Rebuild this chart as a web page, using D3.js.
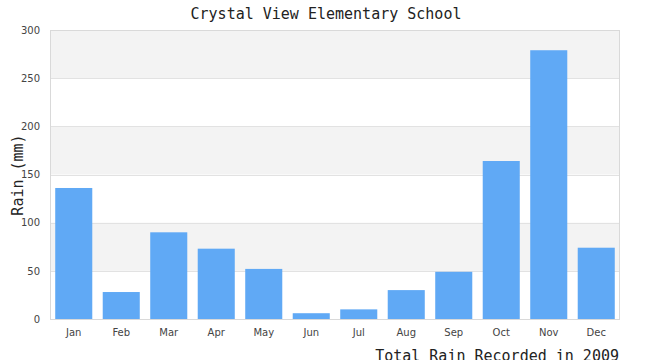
<!DOCTYPE html>
<html>
<head>
<meta charset="utf-8">
<script src="https://cdn.jsdelivr.net/npm/d3@7"></script>
<style>
  body { margin: 0; background: #fff; }
  svg { display: block; }
</style>
</head>
<body>
<div id="chart"></div>
<script>
// Monthly rainfall, Crystal View Elementary School, 2009
const months = ['Jan', 'Feb', 'Mar', 'Apr', 'May', 'Jun', 'Jul', 'Aug', 'Sep', 'Oct', 'Nov', 'Dec'];
const rainMM = [136, 28, 90, 73, 52, 6, 10, 30, 49, 164, 279, 74];
const yTicks = [0, 50, 100, 150, 200, 250, 300];

const width = 650, height = 360;
const margin = {top: 30, right: 30, bottom: 41, left: 50};

const svg = d3.select('#chart').append('svg')
  .attr('width', width)
  .attr('height', height);

const x = d3.scaleBand()
  .domain(months)
  .range([margin.left, width - margin.right])
  .paddingInner(0.22)
  .paddingOuter(0.11);

const y = d3.scaleLinear()
  .domain([0, 300])
  .range([height - margin.bottom, margin.top]);

// alternating background bands
const bands = d3.pairs(yTicks).filter((d, i) => i % 2 === 1);
svg.append('g').selectAll('rect')
  .data(bands)
  .enter().append('rect')
  .attr('x', margin.left)
  .attr('width', width - margin.right - margin.left)
  .attr('y', d => y(d[1]))
  .attr('height', d => y(d[0]) - y(d[1]))
  .attr('fill', '#f3f3f3');

// grid lines
svg.append('g').selectAll('line')
  .data(yTicks)
  .enter().append('line')
  .attr('x1', margin.left)
  .attr('x2', width - margin.right)
  .attr('y1', d => Math.round(y(d)) + 0.5)
  .attr('y2', d => Math.round(y(d)) + 0.5)
  .attr('stroke', '#e2e2e2');

// bars
svg.append('g').selectAll('rect')
  .data(rainMM)
  .enter().append('rect')
  .attr('x', (d, i) => x(months[i]))
  .attr('width', x.bandwidth())
  .attr('y', d => y(d))
  .attr('height', d => y(0) - y(d))
  .attr('fill', '#60a9f5');

// frame
svg.append('rect')
  .attr('x', margin.left + 0.5)
  .attr('y', margin.top + 0.5)
  .attr('width', width - margin.right - margin.left - 1)
  .attr('height', height - margin.bottom - margin.top)
  .attr('fill', 'none')
  .attr('stroke', '#d9d9d9');

// y axis
const yAxis = svg.append('g')
  .attr('transform', `translate(${margin.left - 10},0)`)
  .call(d3.axisLeft(y).tickValues(yTicks).tickSize(0).tickPadding(0));
yAxis.select('.domain').remove();
yAxis.selectAll('text')
  .attr('font-family', '"DejaVu Sans", Verdana, sans-serif')
  .attr('font-size', 10)
  .attr('fill', '#444');

// x axis
const xAxis = svg.append('g')
  .attr('transform', `translate(0,${height - margin.bottom})`)
  .call(d3.axisBottom(x).tickSize(0).tickPadding(10));
xAxis.select('.domain').remove();
xAxis.selectAll('text')
  .attr('font-family', '"DejaVu Sans", Verdana, sans-serif')
  .attr('font-size', 10)
  .attr('fill', '#444');

const mono = '"DejaVu Sans Mono", "Liberation Mono", monospace';

svg.append('text')
  .attr('x', 326)
  .attr('y', 19)
  .attr('text-anchor', 'middle')
  .attr('font-family', mono)
  .attr('font-size', 15)
  .attr('fill', '#222')
  .text('Crystal View Elementary School');

svg.append('text')
  .attr('transform', 'translate(23,175) rotate(-90)')
  .attr('text-anchor', 'middle')
  .attr('font-family', mono)
  .attr('font-size', 15)
  .attr('fill', '#222')
  .text('Rain (mm)');

svg.append('text')
  .attr('x', 619)
  .attr('y', 361)
  .attr('text-anchor', 'end')
  .attr('font-family', mono)
  .attr('font-size', 15)
  .attr('fill', '#222')
  .text('Total Rain Recorded in 2009');
</script>
</body>
</html>
